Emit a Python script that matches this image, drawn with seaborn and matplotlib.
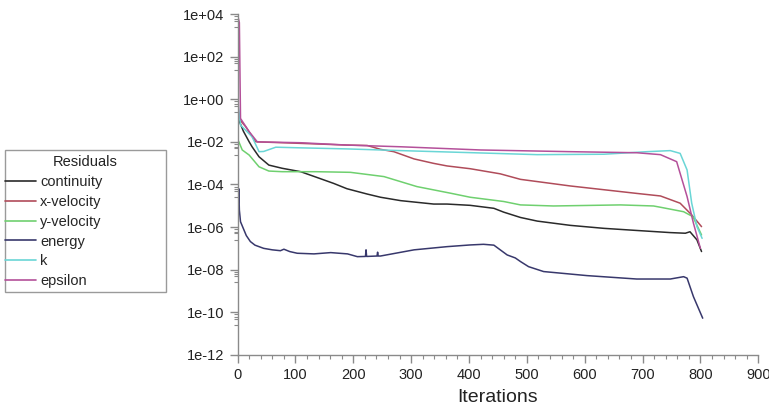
import numpy as np
import pandas as pd
import matplotlib
matplotlib.use("Agg")
import matplotlib.pyplot as plt
import matplotlib.ticker as mticker
from matplotlib.patches import Rectangle
import seaborn as sns

# ---- data (iteration, log10 residual) ----
continuity_it = [0, 2, 10, 20, 25, 37, 54, 77, 109, 135, 166, 189, 224, 247, 282, 339, 362, 402, 443,
                 460, 489, 518, 575, 633, 690, 748, 774, 782, 794, 802]
continuity_lg = [0.0, -0.97, -1.5, -2.0, -2.23, -2.7, -3.09, -3.24, -3.4, -3.65, -3.95, -4.2, -4.45, -4.6,
                 -4.76, -4.92, -4.92, -4.98, -5.12, -5.3, -5.55, -5.72, -5.92, -6.06, -6.16, -6.26, -6.29,
                 -6.22, -6.6, -7.15]

xvel_it = [0, 5, 14, 31, 35, 109, 189, 224, 247, 270, 305, 339, 362, 402, 454, 489, 575, 690, 731, 765, 785, 802]
xvel_lg = [-0.6, -1.0, -1.29, -1.99, -2.0, -2.07, -2.15, -2.17, -2.35, -2.46, -2.8, -3.01, -3.13, -3.26,
           -3.5, -3.76, -4.07, -4.42, -4.54, -4.88, -5.43, -5.98]

yvel_it = [0, 2, 8, 20, 37, 54, 77, 135, 195, 253, 310, 368, 402, 460, 489, 546, 662, 719, 731, 771, 787, 802]
yvel_lg = [-1.9, -1.99, -2.38, -2.62, -3.17, -3.37, -3.4, -3.4, -3.43, -3.63, -4.1, -4.41, -4.6, -4.8,
           -4.96, -5.01, -4.96, -5.01, -5.07, -5.28, -5.51, -6.37]

energy_it = [0, 1, 2, 3, 5, 11, 15, 22, 30, 45, 60, 74, 80, 90, 103, 132, 161, 190, 207, 221, 222, 223,
             241, 242, 243, 247, 305, 362, 402, 425, 443, 466, 480, 489, 503, 529, 604, 690, 748, 771,
             777, 788, 804]
energy_lg = [-3.9, -5.0, -4.2, -5.2, -5.75, -6.14, -6.4, -6.68, -6.85, -7.0, -7.07, -7.11, -7.04, -7.15,
             -7.23, -7.26, -7.2, -7.26, -7.39, -7.38, -7.07, -7.38, -7.36, -7.18, -7.36, -7.36, -7.07,
             -6.92, -6.84, -6.81, -6.85, -7.31, -7.45, -7.62, -7.86, -8.09, -8.28, -8.44, -8.44, -8.33,
             -8.4, -9.27, -10.28]

k_it = [0, 2, 5, 25, 37, 45, 66, 109, 189, 282, 420, 518, 633, 708, 748, 765, 777, 785, 794, 803]
k_lg = [0.0, -0.5, -1.21, -1.76, -2.46, -2.45, -2.25, -2.28, -2.33, -2.41, -2.52, -2.6, -2.58, -2.46,
        -2.41, -2.54, -3.32, -4.88, -5.98, -6.53]

eps_it = [0, 3, 5, 20, 34, 109, 189, 282, 420, 575, 690, 731, 759, 765, 777, 788, 800]
eps_lg = [3.95, 3.6, -0.9, -1.52, -2.0, -2.04, -2.15, -2.23, -2.38, -2.46, -2.51, -2.6, -2.93, -3.48,
          -4.57, -5.82, -7.0]

names = ["continuity", "x-velocity", "y-velocity", "energy", "k", "epsilon"]
colors = ["#2a2a2a", "#b04c5a", "#6fd06f", "#38386c", "#6ad6d6", "#b4509a"]
series = [(continuity_it, continuity_lg), (xvel_it, xvel_lg), (yvel_it, yvel_lg),
          (energy_it, energy_lg), (k_it, k_lg), (eps_it, eps_lg)]

frames = []
for n, (it, lg) in zip(names, series):
    frames.append(pd.DataFrame({"Iterations": it, "res": np.power(10.0, lg), "series": n}))
df = pd.concat(frames, ignore_index=True)

sns.set_style("white")
plt.rcParams["font.family"] = ["Liberation Sans", "DejaVu Sans"]

W, H = 769, 415
fig = plt.figure(figsize=(W / 100, H / 100), dpi=100)
ax = fig.add_axes([0.309, 0.145, 0.677, 0.821])

sns.lineplot(data=df, x="Iterations", y="res", hue="series", hue_order=names,
             palette=dict(zip(names, colors)), estimator=None, sort=False,
             linewidth=1.1, ax=ax, legend=True)

ax.set_yscale("log")
ax.set_ylim(1e-12, 1e4)
ax.set_xlim(0, 900)
ax.set_xticks(np.arange(0, 901, 100))
ax.xaxis.set_minor_locator(mticker.MultipleLocator(20))
ax.yaxis.set_major_locator(mticker.FixedLocator([10.0 ** e for e in range(-12, 5, 2)]))
ax.yaxis.set_major_formatter(mticker.FuncFormatter(
    lambda v, p: "1e%+03d" % int(round(np.log10(v)))))
minor = []
for e in range(-10, 5, 2):
    for f in [0.8, 0.6, 0.5, 0.25]:
        minor.append(f * 10.0 ** e)
ax.yaxis.set_minor_locator(mticker.FixedLocator(minor))
ax.yaxis.set_minor_formatter(mticker.NullFormatter())

for s in ["top", "right"]:
    ax.spines[s].set_visible(False)
for s in ["left", "bottom"]:
    ax.spines[s].set_color("#8a8a8a")
    ax.spines[s].set_linewidth(1.0)

ax.tick_params(axis="both", which="major", direction="out", length=6, width=1.0,
               color="#8a8a8a", labelsize=10.5, labelcolor="#222222", left=True, bottom=True)
ax.tick_params(axis="both", which="minor", direction="out", length=3, width=0.8,
               color="#8a8a8a", left=True, bottom=True)
ax.set_xlabel("Iterations", fontsize=14, color="#222222", labelpad=5)
ax.set_ylabel("")

# ---- legend: box, centered title, entries ----
handles, labels = ax.get_legend_handles_labels()
ax.get_legend().remove()
bx0, bx1, by0, by1 = 5, 166, 150, 292  # pixel box of the legend
fig.patches.append(Rectangle((bx0 / W, 1 - by1 / H), (bx1 - bx0) / W, (by1 - by0) / H,
                             transform=fig.transFigure, fill=False, edgecolor="#9a9a9a",
                             linewidth=1.0, zorder=5))
fig.text((bx0 + bx1) / 2 / W, 1 - 162 / H, "Residuals", ha="center", va="center",
         fontsize=10.5, color="#222222")
leg = fig.legend(handles, labels, loc="upper left",
                 bbox_to_anchor=(bx0 / W, 1 - 175 / H), bbox_transform=fig.transFigure,
                 frameon=False, fontsize=10.5, handlelength=2.15, handletextpad=0.25,
                 labelspacing=0.40, borderpad=0.0, borderaxespad=0.0)
for line in leg.get_lines():
    line.set_linewidth(1.2)

fig.savefig("out.png", dpi=100, facecolor="white")
